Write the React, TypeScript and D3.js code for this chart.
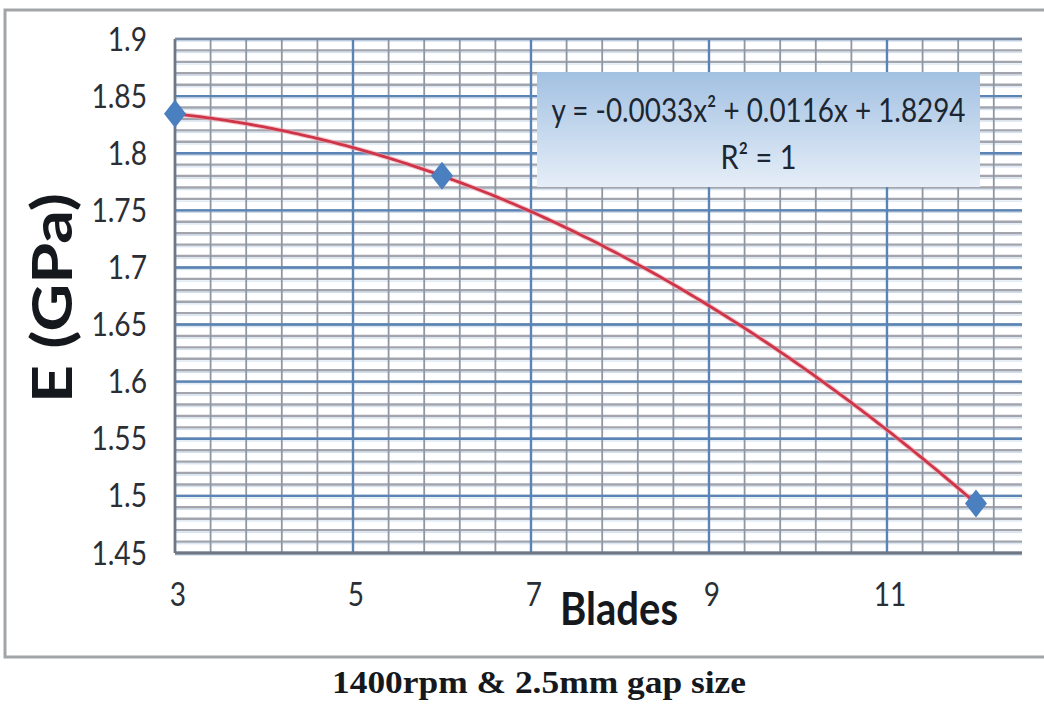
import React from "react";
import * as d3 from "d3";

// Measured points: number of blades vs. elastic modulus
const bladeCounts = [3, 6, 12];
const modulusGPa = [1.8345, 1.7802, 1.4934];

// Quadratic trendline coefficients (a·x² + b·x + c)
const trendCoefficients = [-0.0033, 0.0116, 1.8294];
const trendRSquared = "1";

// Axis ticks
const xTickValues = [3, 5, 7, 9, 11];
const yTickValues = [1.45, 1.5, 1.55, 1.6, 1.65, 1.7, 1.75, 1.8, 1.85, 1.9];
const xDomain = [3, 12.517];
const yDomain = [1.45, 1.9];
const xMinorStep = 0.4;
const yMinorStep = 0.01;

const xTitle = "Blades";
const yTitle = "E (GPa)";
const caption = "1400rpm & 2.5mm gap size";

const W = 1044;
const H = 714;
const plot = { left: 175, right: 1022, top: 39, bottom: 553 };

export default function App() {
  const x = d3.scaleLinear().domain(xDomain).range([plot.left, plot.right]);
  const y = d3.scaleLinear().domain(yDomain).range([plot.bottom, plot.top]);

  const xMinor = d3.range(xDomain[0], xDomain[1] + 1e-9, xMinorStep);
  const yMinor = d3
    .range(0, Math.round((yDomain[1] - yDomain[0]) / yMinorStep) + 1)
    .map((i) => yDomain[0] + i * yMinorStep);

  const [a, b, c] = trendCoefficients;
  const xMin = d3.min(bladeCounts) as number;
  const xMax = d3.max(bladeCounts) as number;
  const trendPts = d3.range(xMin, xMax + 1e-9, 0.05).map((v) => [v, a * v * v + b * v + c] as [number, number]);
  const trendPath = d3
    .line<[number, number]>()
    .x((d) => x(d[0]))
    .y((d) => y(d[1]))
    .curve(d3.curveMonotoneX)(trendPts) as string;

  const pts = bladeCounts.map((v, i) => ({ bx: v, e: modulusGPa[i] }));
  const diamond = (cx: number, cy: number) =>
    `M${cx},${cy - 14}L${cx + 11},${cy}L${cx},${cy + 14}L${cx - 11},${cy}Z`;

  const sans = "Lato, 'Open Sans', sans-serif";
  const eqX = (537 + 980) / 2;
  const equation = `y = ${a}x² + ${b}x + ${c}`;
  const rSquared = `R² = ${trendRSquared}`;

  return (
    <svg
      width={W}
      height={H}
      style={{ position: "absolute", left: 0, top: 0, background: "#fff" }}
    >
      <defs>
        <linearGradient id="eqFill" x1="0" y1="0" x2="0" y2="1">
          <stop offset="0" stopColor="#a2c1e2" />
          <stop offset="1" stopColor="#e6eef8" />
        </linearGradient>
      </defs>
      <rect x={0} y={0} width={W} height={H} fill="#fff" />

      {/* chart frame */}
      <rect x={5} y={10} width={1060} height={647} fill="none" stroke="#a2a5a8" strokeWidth={3} />

      {/* minor gridlines */}
      {yMinor.map((v, i) => (
        <g key={`ym${i}`}>
          <line x1={plot.left} x2={plot.right} y1={y(v)} y2={y(v)} stroke="#a2a4ae" strokeWidth={2.4} />
          <line x1={plot.left} x2={plot.right} y1={y(v) + 2.2} y2={y(v) + 2.2} stroke="#cddff0" strokeWidth={1} />
        </g>
      ))}
      {xMinor.map((v, i) => (
        <line key={`xm${i}`} x1={x(v)} x2={x(v)} y1={plot.top} y2={plot.bottom} stroke="#8f97a3" strokeWidth={1.8} />
      ))}

      {/* major gridlines */}
      {yTickValues.map((v) => (
        <line key={`yM${v}`} x1={plot.left} x2={plot.right} y1={y(v)} y2={y(v)} stroke="#5a84b6" strokeWidth={2.4} />
      ))}
      {xTickValues.map((v) => (
        <line key={`xM${v}`} x1={x(v)} x2={x(v)} y1={plot.top} y2={plot.bottom} stroke="#5a84b6" strokeWidth={2.4} />
      ))}

      {/* plot border */}
      <line x1={plot.left} x2={plot.left} y1={plot.top} y2={plot.bottom} stroke="#6f7782" strokeWidth={2.5} />
      <line x1={plot.left} x2={plot.right} y1={plot.bottom} y2={plot.bottom} stroke="#6f7782" strokeWidth={3} />
      <line x1={plot.left} x2={plot.right} y1={plot.top} y2={plot.top} stroke="#7b8aa0" strokeWidth={2} />

      {/* trendline */}
      <path d={trendPath} fill="none" stroke="#f0a0aa" strokeWidth={5} opacity={0.6} />
      <path d={trendPath} fill="none" stroke="#cf3548" strokeWidth={2.8} />

      {/* data markers */}
      {pts.map((p, i) => (
        <path key={`pt${i}`} d={diamond(x(p.bx), y(p.e))} fill="#4a7fc0" />
      ))}

      {/* equation box */}
      <rect x={537} y={72} width={443} height={115} fill="url(#eqFill)" />
      <text
        x={eqX}
        y={122}
        textAnchor="middle"
        fontFamily={sans}
        fontSize={33}
        fill="#1c2631"
        textLength={414}
        lengthAdjust="spacingAndGlyphs"
      >
        {equation}
      </text>
      <text
        x={eqX}
        y={169}
        textAnchor="middle"
        fontFamily={sans}
        fontSize={33}
        fill="#1c2631"
        textLength={76}
        lengthAdjust="spacingAndGlyphs"
      >
        {rSquared}
      </text>

      {/* y tick labels */}
      {yTickValues.map((v) => (
        <g key={`yl${v}`} transform={`translate(147,${y(v)}) scale(0.88,1)`}>
          <text dy="0.36em" textAnchor="end" fontFamily={sans} fontSize={32} fill="#2b2f35">
            {d3.format("")(+v.toFixed(2))}
          </text>
        </g>
      ))}

      {/* x tick labels */}
      {xTickValues.map((v) => (
        <g key={`xl${v}`} transform={`translate(${x(v) + 3},606) scale(0.85,1)`}>
          <text textAnchor="middle" fontFamily={sans} fontSize={33} fill="#2b2f35">
            {v}
          </text>
        </g>
      ))}

      {/* axis titles */}
      <text
        x={619}
        y={625}
        textAnchor="middle"
        fontFamily={sans}
        fontWeight="bold"
        fontSize={45}
        fill="#15181c"
        textLength={118}
        lengthAdjust="spacingAndGlyphs"
      >
        {xTitle}
      </text>
      <text
        transform="translate(72,298) rotate(-90)"
        textAnchor="middle"
        fontFamily={sans}
        fontWeight="bold"
        fontSize={55}
        fill="#15181c"
        textLength={210}
        lengthAdjust="spacingAndGlyphs"
      >
        {yTitle}
      </text>

      {/* caption */}
      <text
        x={539}
        y={693}
        textAnchor="middle"
        fontFamily="'Liberation Serif', 'Times New Roman', serif"
        fontWeight="bold"
        fontSize={32}
        fill="#15181c"
        textLength={414}
        lengthAdjust="spacingAndGlyphs"
      >
        {caption}
      </text>
    </svg>
  );
}
